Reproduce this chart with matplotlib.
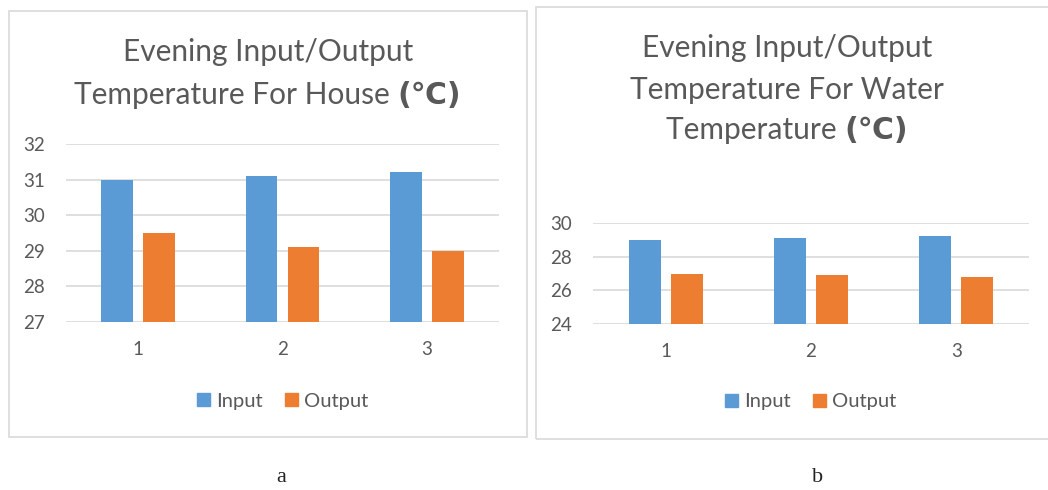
import matplotlib
matplotlib.use("Agg")
import matplotlib.pyplot as plt
from matplotlib.patches import Rectangle, Patch
import numpy as np

# ── data ─────────────────────────────────────────────
categories = ["1", "2", "3"]
house_input = [31.0, 31.1, 31.2]
house_output = [29.5, 29.1, 29.0]
water_input = [29.0, 29.1, 29.2]
water_output = [27.0, 26.9, 26.8]
house_yticks = [27, 28, 29, 30, 31, 32]
water_yticks = [24, 26, 28, 30]

BLUE = "#5B9BD5"
ORANGE = "#ED7D31"
GRID = "#d9d9d9"
TXT = "#595959"
FONT = ["Lato", "DejaVu Sans"]

W, H = 1048, 490
fig = plt.figure(figsize=(W / 100, H / 100), dpi=100)
fig.patch.set_facecolor("white")


def px_rect(x0, y0, x1, y1):
    # pixel box (top-left origin) -> figure fraction [l, b, w, h]
    return [x0 / W, 1 - y1 / H, (x1 - x0) / W, (y1 - y0) / H]


def border(x0, y0, x1, y1):
    l, b, w, h = px_rect(x0, y0, x1, y1)
    fig.patches.append(Rectangle((l, b), w, h, transform=fig.transFigure,
                                 facecolor="none", edgecolor=GRID, lw=1.2))


def title(lines, cx, ys, size=21.5):
    r = fig.canvas.get_renderer()
    for i, (line, y) in enumerate(zip(lines, ys)):
        if i == len(lines) - 1:
            t1 = fig.text(0, 1 - y / H, line + " ", fontsize=size, color=TXT,
                          family=FONT, va="center", ha="left")
            t2 = fig.text(0, 1 - y / H, "(℃)", fontsize=size, color=TXT,
                          family=["DejaVu Sans"], fontweight="bold",
                          va="center", ha="left")
            w1 = t1.get_window_extent(r).width
            w2 = t2.get_window_extent(r).width
            x0 = cx - (w1 + w2) / 2
            t1.set_x(x0 / W)
            t2.set_x((x0 + w1) / W)
        else:
            fig.text(cx / W, 1 - y / H, line, fontsize=size, color=TXT,
                     family=FONT, va="center", ha="center")


def panel(rect, inp, out, yticks, legend_y):
    ax = fig.add_axes(px_rect(*rect))
    x = np.arange(1, len(categories) + 1)
    ax.bar(x - 0.145, inp, width=0.22, color=BLUE, zorder=3)
    ax.bar(x + 0.145, out, width=0.22, color=ORANGE, zorder=3)
    ax.set_xlim(0.5, len(categories) + 0.5)
    ax.set_ylim(yticks[0], yticks[-1])
    ax.set_yticks(yticks)
    ax.set_xticks(x)
    ax.set_xticklabels(categories)
    ax.yaxis.grid(True, color=GRID, lw=1.2, zorder=0)
    for s in ax.spines.values():
        s.set_visible(False)
    ax.tick_params(length=0, colors=TXT, labelsize=13.5)
    ax.tick_params(axis="y", pad=15)
    ax.tick_params(axis="x", pad=14)
    for lab in ax.get_xticklabels() + ax.get_yticklabels():
        lab.set_family(FONT)
    handles = [Patch(color=BLUE, label="Input"), Patch(color=ORANGE, label="Output")]
    cx = (rect[0] + rect[2]) / 2
    fig.legend(handles=handles, loc="center",
               bbox_to_anchor=(cx / W, 1 - legend_y / H), ncol=2, frameon=False,
               prop={"family": FONT, "size": 14.5}, labelcolor=TXT,
               handlelength=0.65, handleheight=0.65, handletextpad=0.3,
               columnspacing=1.1)
    return ax


# ── panel a ─────────────────────────────────────────
border(9, 11, 527, 437)
panel((66, 144, 499, 322), house_input, house_output, house_yticks, 401)
title(["Evening Input/Output", "Temperature For House"], 268, [52, 95])

# ── panel b ─────────────────────────────────────────
border(536, 7, 1052, 439)
panel((593, 223, 1029, 324), water_input, water_output, water_yticks, 402)
title(["Evening Input/Output", "Temperature For Water", "Temperature"],
      787, [48, 90, 130])

# sub-figure captions
fig.text(281 / W, 1 - 477 / H, "a", family="Liberation Serif", fontsize=16,
         ha="center", va="center", color="#222")
fig.text(818 / W, 1 - 477 / H, "b", family="Liberation Serif", fontsize=16,
         ha="center", va="center", color="#222")

fig.savefig("out.png", dpi=100)
